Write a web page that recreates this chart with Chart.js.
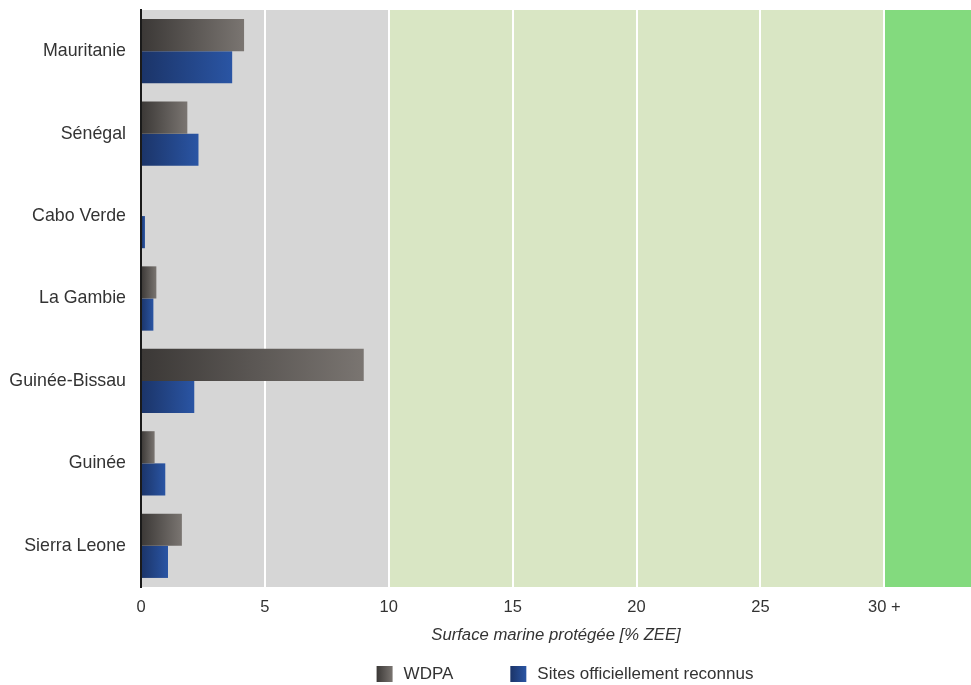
<!DOCTYPE html>
<html>
<head>
<meta charset="utf-8">
<script src="https://cdn.jsdelivr.net/npm/chart.js"></script>
<style>
  html, body { margin: 0; padding: 0; background: #fff; }
  #wrap { width: 971px; height: 685px; }
</style>
</head>
<body>
<div id="wrap"><canvas id="chart"></canvas></div>
<script>
// data
const categories = ['Mauritanie', 'Sénégal', 'Cabo Verde', 'La Gambie', 'Guinée-Bissau', 'Guinée', 'Sierra Leone'];
const wdpaValues = [4.16, 1.87, 0, 0.62, 8.99, 0.55, 1.65];
const sitesValues = [3.68, 2.32, 0.16, 0.5, 2.15, 0.98, 1.09];
const xTicks = [0, 5, 10, 15, 20, 25, 30];
const bandEdges = [0, 10, 30, 33.5];
const bandColors = ['#d6d6d6', '#d9e6c4', '#83da7e'];
const seriesColors = [['#3b3836', '#7a7571'], ['#1b3468', '#2a55a4']];

const FONT = "'Liberation Sans', Arial, sans-serif";

function gradientFill(c0, c1) {
    return function (context) {
        const chart = context.chart;
        const x = chart.scales.x;
        if (!x || context.type !== 'data' || !context.raw) return c1;
        const x0 = x.getPixelForValue(0);
        const x1 = x.getPixelForValue(context.raw);
        if (!isFinite(x0) || !isFinite(x1) || x1 - x0 < 2) return c1;
        const g = chart.ctx.createLinearGradient(x0, 0, x1, 0);
        g.addColorStop(0, c0);
        g.addColorStop(1, c1);
        return g;
    };
}

const bandsPlugin = {
    id: 'bands',
    beforeDraw: function (chart) {
        const ctx = chart.ctx;
        const area = chart.chartArea;
        const x = chart.scales.x;
        ctx.save();
        for (let i = 0; i < bandColors.length; i++) {
            const a = x.getPixelForValue(bandEdges[i]);
            const b = x.getPixelForValue(bandEdges[i + 1]);
            ctx.fillStyle = bandColors[i];
            ctx.fillRect(a, area.top, b - a, area.bottom - area.top);
        }
        ctx.restore();
    }
};

// legend with gradient boxes and wide item spacing
const legendPlugin = {
    id: 'gradLegend',
    afterDraw: function (chart) {
        const ctx = chart.ctx;
        const area = chart.chartArea;
        const box = 16, textGap = 11, itemGap = 57;
        const y = chart.height - 11;
        ctx.save();
        ctx.font = '17px ' + FONT;
        ctx.textBaseline = 'middle';
        const labels = chart.data.datasets.map(function (d) { return d.label; });
        const widths = labels.map(function (t) { return ctx.measureText(t).width; });
        let total = 0;
        widths.forEach(function (w, i) { total += box + textGap + w + (i < widths.length - 1 ? itemGap : 0); });
        let x = (area.left + area.right) / 2 + 9 - total / 2;
        labels.forEach(function (t, i) {
            const g = ctx.createLinearGradient(x, 0, x + box, 0);
            g.addColorStop(0, seriesColors[i][0]);
            g.addColorStop(1, seriesColors[i][1]);
            ctx.fillStyle = g;
            ctx.fillRect(x, y - box / 2, box, box);
            ctx.fillStyle = '#333';
            ctx.fillText(t, x + box + textGap, y);
            x += box + textGap + widths[i] + itemGap;
        });
        ctx.restore();
    }
};

new Chart(document.getElementById('chart'), {
    type: 'bar',
    data: {
        labels: categories,
        datasets: [
            {
                label: 'WDPA',
                data: wdpaValues,
                backgroundColor: gradientFill(seriesColors[0][0], seriesColors[0][1]),
                borderWidth: 0,
                barPercentage: 1,
                categoryPercentage: 0.78
            },
            {
                label: 'Sites officiellement reconnus',
                data: sitesValues,
                backgroundColor: gradientFill(seriesColors[1][0], seriesColors[1][1]),
                borderWidth: 0,
                barPercentage: 1,
                categoryPercentage: 0.78
            }
        ]
    },
    options: {
        indexAxis: 'y',
        responsive: true,
        maintainAspectRatio: false,
        animation: false,
        layout: { padding: { top: 10, right: 0, left: 0, bottom: 40 } },
        plugins: {
            legend: { display: false },
            tooltip: { enabled: false }
        },
        scales: {
            x: {
                type: 'linear',
                min: 0,
                max: 33.5,
                afterBuildTicks: function (axis) {
                    axis.ticks = xTicks.map(function (v) { return { value: v }; });
                },
                afterFit: function (axis) { axis.height = 58; },
                grid: {
                    color: function (c) { return c.tick && c.tick.value === 0 ? 'rgba(0,0,0,0)' : '#ffffff'; },
                    lineWidth: 2,
                    drawTicks: false
                },
                border: { display: false },
                ticks: {
                    padding: 11,
                    color: '#333',
                    font: { family: FONT, size: 16.5 },
                    callback: function (v) { return v === 30 ? '30 +' : v; }
                },
                title: {
                    display: true,
                    text: 'Surface marine protégée [% ZEE]',
                    color: '#333',
                    font: { family: FONT, size: 16.7, style: 'italic' },
                    padding: { top: 6, bottom: 0 }
                }
            },
            y: {
                grid: { display: false, drawTicks: false },
                border: { display: true, color: '#1a1a1a', width: 2 },
                afterFit: function (axis) {
                    axis.width = 141;
                    axis.paddingTop = 0;
                    axis.paddingBottom = 0;
                },
                ticks: {
                    padding: 15,
                    color: '#333',
                    font: { family: FONT, size: 17.8 }
                }
            }
        }
    },
    plugins: [bandsPlugin, legendPlugin]
});
</script>
</body>
</html>
